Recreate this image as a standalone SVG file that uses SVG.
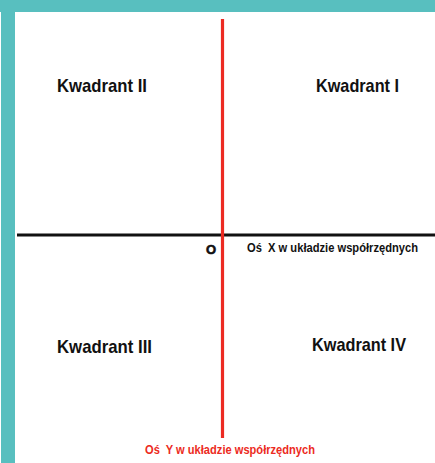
<svg xmlns="http://www.w3.org/2000/svg" width="435" height="463" viewBox="0 0 435 463">
<style>
.q{font-family:"Liberation Sans",Arial,sans-serif;font-weight:bold;font-size:19px;fill:#111}
.ax{font-family:"Liberation Sans",Arial,sans-serif;font-weight:bold;font-size:13.5px}
</style>
<rect x="0" y="0" width="435" height="463" fill="#ffffff"/>
<g id="frame">
<rect x="0" y="0" width="435" height="12" fill="#58bfbf"/>
<rect x="1" y="0" width="14" height="463" fill="#58bfbf"/>
</g>
<g id="connectors">
<line x1="17" y1="235" x2="435" y2="235" stroke="#111" stroke-width="3"/>
<line x1="222.5" y1="19" x2="222.5" y2="438" stroke="#ec2a22" stroke-width="3.2"/>
</g>
<g id="q2"><text class="q" x="57" y="92" textLength="90" lengthAdjust="spacingAndGlyphs">Kwadrant II</text></g>
<g id="q1"><text class="q" x="316" y="92" textLength="83" lengthAdjust="spacingAndGlyphs">Kwadrant I</text></g>
<g id="q3"><text class="q" x="57" y="353" textLength="95" lengthAdjust="spacingAndGlyphs">Kwadrant III</text></g>
<g id="q4"><text class="q" x="312" y="351" textLength="94" lengthAdjust="spacingAndGlyphs">Kwadrant IV</text></g>
<g id="origin"><text x="211" y="254" text-anchor="middle" font-family="Liberation Sans, Arial, sans-serif" font-weight="bold" font-size="13" fill="#111" stroke="#111" stroke-width="0.6">O</text></g>
<g id="xlabel"><text class="ax" x="247" y="252" fill="#111" textLength="171" lengthAdjust="spacingAndGlyphs" xml:space="preserve">Oś  X w układzie współrzędnych</text></g>
<g id="ylabel"><text class="ax" x="145" y="454" fill="#ec2a22" textLength="170" lengthAdjust="spacingAndGlyphs" xml:space="preserve">Oś  Y w układzie współrzędnych</text></g>
</svg>
